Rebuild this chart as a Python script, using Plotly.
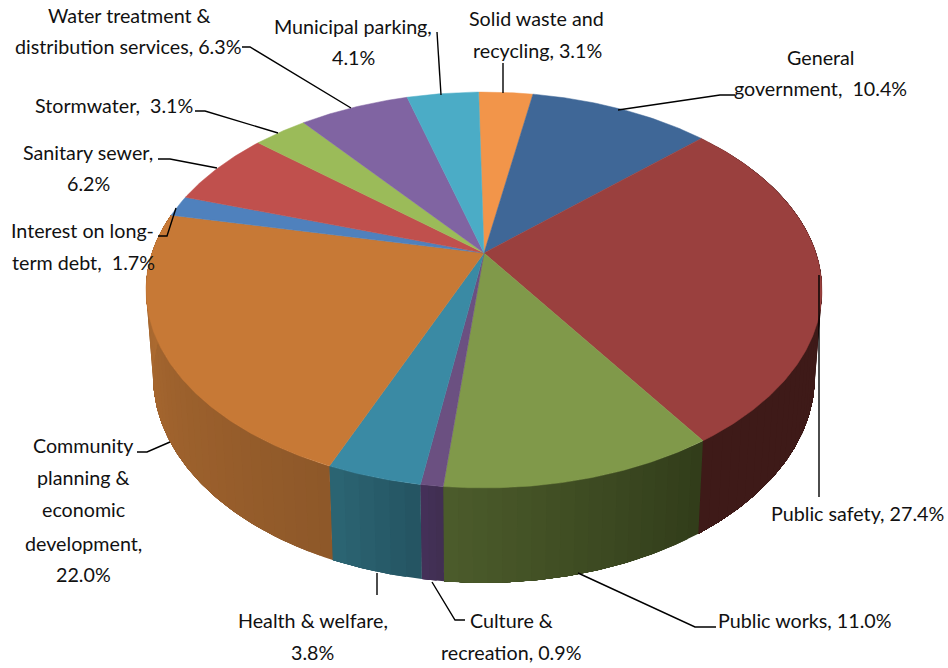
import math
import plotly.graph_objects as go

# ---------- data ----------
categories = ["Solid waste and recycling", "General government", "Public safety", "Public works",
              "Culture & recreation", "Health & welfare", "Community planning & economic development",
              "Interest on long-term debt", "Sanitary sewer", "Stormwater",
              "Water treatment & distribution services", "Municipal parking"]
values = [3.1, 10.4, 27.4, 11.0, 0.9, 3.8, 22.0, 1.7, 6.2, 3.1, 6.3, 4.1]
top_colors = ["#f2954a", "#3f6797", "#9a403e", "#80994a", "#6b5081", "#3a8aa4",
              "#c77936", "#4f81bd", "#c0504d", "#9bbb59", "#8064a2", "#4bacc6"]
side_start = [None, None, "#3e1a18", "#313c1a", "#402f50", "#245461", "#8e5829", None, None, None, None, None]
side_end = [None, None, "#3e1a18", "#4c5c2b", "#45305a", "#2c6574", "#b26e32", None, None, None, None, None]

label_lines = [
    ("Water treatment &", 129, 15), ("distribution services, 6.3%", 128, 46),
    ("Municipal parking,", 353, 26), ("4.1%", 353, 57),
    ("Solid waste and", 536, 18), ("recycling, 3.1%", 537, 50),
    ("General", 820, 57), ("government,  10.4%", 820, 88),
    ("Stormwater,  3.1%", 114, 105),
    ("Sanitary sewer,", 88, 152), ("6.2%", 88, 183),
    ("Interest on long-", 82, 230), ("term debt,  1.7%", 83, 262),
    ("Community", 83, 445), ("planning &", 83, 477), ("economic", 83, 509),
    ("development,", 83, 543), ("22.0%", 83, 574),
    ("Health & welfare,", 313, 620), ("3.8%", 312, 652),
    ("Culture &", 511, 620), ("recreation, 0.9%", 511, 652),
    ("Public works, 11.0%", 805, 620),
    ("Public safety, 27.4%", 857, 513),
]
leaders = [
    [(242, 47), (250, 47), (351, 108)],
    [(437, 32), (441, 95)],
    [(503, 63), (503, 93)],
    [(735, 95), (720, 95), (618, 110)],
    [(195, 111), (205, 111), (278, 133)],
    [(158, 159), (170, 159), (217, 168)],
    [(158, 236), (167, 236), (176, 208)],
    [(819, 275), (819, 497)],
    [(578, 573), (695, 627), (716, 627)],
    [(432, 582), (455, 620), (465, 620)],
    [(377, 573), (377, 595)],
    [(137, 452), (147, 452), (170, 442)],
]

# ---------- projection of the pie onto the page ----------
START = -1.1
CX, K = 484.0, -0.187
TOP = (332.0, 191.0, 253.0)     # a, b, centre y of upper face
BOT = (325.0, 199.0, 338.0)     # a, b, centre y of lower face


def rim(deg, face):
    a, b, cy = face
    t = math.radians(deg)
    u, v = math.sin(t), -math.cos(t)
    d = 1 + K * v
    return CX + a * u / d, cy + b * v / d


def mix(c1, c2, f):
    p = [int(c1[i:i + 2], 16) for i in (1, 3, 5)]
    q = [int(c2[i:i + 2], 16) for i in (1, 3, 5)]
    return "#%02x%02x%02x" % tuple(round(p[i] + (q[i] - p[i]) * f) for i in range(3))


def arc(t0, t1, face, step=0.5):
    n = max(2, int((t1 - t0) / step) + 1)
    return [rim(t0 + (t1 - t0) * i / (n - 1), face) for i in range(n)]


total = sum(values)
edges = [START]
for val in values:
    edges.append(edges[-1] + 360.0 * val / total)

fig = go.Figure()


def poly(points, color, width=0.6):
    fig.add_trace(go.Scatter(x=[p[0] for p in points], y=[p[1] for p in points], mode="lines",
                             fill="toself", fillcolor=color, line=dict(color=color, width=width),
                             hoverinfo="skip", showlegend=False))


# sides: each strip covers the rest of its slice, so no seams show between strips
for i, name in enumerate(categories):
    if side_start[i] is None:
        continue
    t0, t1 = edges[i], edges[i + 1]
    n = max(3, int((t1 - t0) / 2.0))
    for j in range(n):
        a0 = t0 + (t1 - t0) * j / n
        pts = arc(a0, t1, TOP) + arc(a0, t1, BOT)[::-1]
        poly(pts + pts[:1], mix(side_start[i], side_end[i], (j + 0.5) / n), width=0)

# upper face
apex = (CX, TOP[2])
for i, name in enumerate(categories):
    pts = [apex] + arc(edges[i], edges[i + 1], TOP) + [apex]
    poly(pts, top_colors[i], width=0.5)

# leader lines
for line in leaders:
    fig.add_trace(go.Scatter(x=[p[0] for p in line], y=[p[1] for p in line], mode="lines",
                             line=dict(color="#000000", width=1.4), hoverinfo="skip", showlegend=False))

annotations = [dict(x=x, y=y, text=t, showarrow=False, xanchor="center", yanchor="middle",
                    font=dict(family="Lato", size=19.7, color="#111111"))
               for t, x, y in label_lines]

fig.update_layout(width=948, height=668, margin=dict(l=0, r=0, t=0, b=0),
                  paper_bgcolor="white", plot_bgcolor="white", showlegend=False,
                  xaxis=dict(visible=False, range=[0, 948], fixedrange=True),
                  yaxis=dict(visible=False, range=[668, 0], fixedrange=True),
                  annotations=annotations)
fig.write_html("out.html", config=dict(displayModeBar=False),
               post_script="document.body.style.margin='0';document.documentElement.style.overflow='hidden';")
